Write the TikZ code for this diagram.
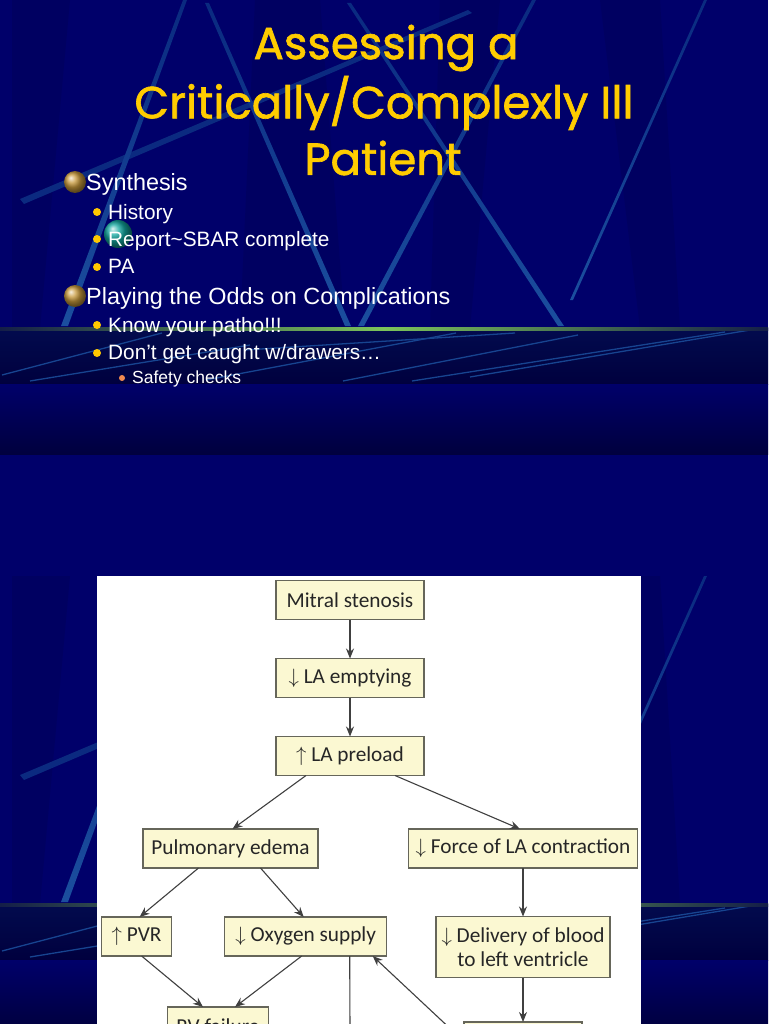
\documentclass[tikz,border=0pt]{standalone}
\usepackage{fontspec}
\usepackage{tikz}
\usetikzlibrary{arrows.meta,positioning}
\setmainfont{Liberation Sans}
\newfontfamily\titlefont[FakeBold=1.4]{Poppins}
\newfontfamily\boxfont{Carlito}
\definecolor{slidenavy}{HTML}{00006A}
\definecolor{stripedark}{HTML}{000061}
\definecolor{banddark}{HTML}{00003E}
\definecolor{bandtop}{HTML}{020B4E}
\definecolor{beamfaint}{HTML}{0B2A80}
\definecolor{beamtop}{HTML}{0A2A80}
\definecolor{beambot}{HTML}{1B4E9E}
\definecolor{raycol}{HTML}{174490}
\definecolor{titlegold}{HTML}{FFCC00}
\definecolor{dotgold}{HTML}{FFC800}
\definecolor{dotorange}{HTML}{F08A50}
\definecolor{ballgold}{HTML}{C89A3C}
\definecolor{globeteal}{HTML}{12A8A0}
\definecolor{boxfill}{HTML}{FBF8D2}
\definecolor{boxline}{HTML}{66665A}
\definecolor{glowgreen}{HTML}{7CC45A}
\definecolor{dimgreen}{HTML}{141E48}
\tikzset{
  beam/.style={top color=beamtop,bottom color=beambot,draw=none},
  ray/.style={draw=raycol,line width=1.3pt},
  titleline/.style={font=\titlefont\fontsize{45}{45}\selectfont,text=titlegold,inner sep=0pt},
  itemone/.style={font=\fontsize{23.4}{25}\selectfont,text=white,anchor=base west,inner sep=0pt},
  itemtwo/.style={font=\fontsize{20.8}{22}\selectfont,text=white,anchor=base west,inner sep=0pt},
  itemthree/.style={font=\fontsize{17.5}{20}\selectfont,text=white,anchor=base west,inner sep=0pt},
  stepbox/.style={draw=boxline,line width=1.2pt,fill=boxfill,minimum height=39pt,inner sep=0pt,
    outer sep=0pt,align=center,text=black!85,font=\boxfont\fontsize{21.3}{24}\selectfont},
  flow/.style={draw=black!75,line width=1.1pt,-{Stealth[length=10pt,width=8pt]}}
}
\begin{document}
\begin{tikzpicture}[x=1pt,y=-1pt]
  \useasboundingbox (0,0) rectangle (768,1024);
  \clip (0,0) rectangle (768,1024);
  \fill[slidenavy] (0,0) rectangle (768,1024);
  % the two slides share one backdrop
  \foreach \slidetop in {0,576} {
    \begin{scope}[yshift={-\slidetop pt}]
      \fill[stripedark] (12,0) -- (70,0) -- (40,328) -- (12,328) -- cycle;
      \fill[stripedark] (255,0) -- (320,0) -- (345,328) -- (240,328) -- cycle;
      \fill[stripedark] (440,0) -- (500,0) -- (470,328) -- (430,328) -- cycle;
      \fill[stripedark] (600,0) -- (660,0) -- (680,328) -- (640,328) -- cycle;
      \fill[beamfaint] (468,10) -- (472,13) -- (24,204) -- (20,199) -- cycle;
      \shade[beam] (183,0) -- (187,0) -- (68,326) -- (61,326) -- cycle;
      \shade[beam] (205,3) -- (209,3) -- (351,326) -- (345,326) -- cycle;
      \shade[beam] (347,3) -- (351,3) -- (564,326) -- (558,326) -- cycle;
      \shade[beam] (532,0) -- (536,0) -- (364,326) -- (358,326) -- cycle;
      \shade[beam] (704,0) -- (707,0) -- (573,300) -- (570,300) -- cycle;
      \shade[top color=bandtop,bottom color=banddark] (0,328) rectangle (768,384);
      \shade[top color=slidenavy,bottom color=banddark] (0,384) rectangle (768,454);
      \draw[ray] (2,375) -- (162,333);
      \draw[ray] (30,381) -- (250,345);
      \draw[ray] (206,380) -- (456,333);
      \draw[ray] (245,350) -- (515,333);
      \draw[ray] (343,381) -- (578,335);
      \draw[ray] (412,381) -- (725,332);
      \draw[ray] (470,377) -- (750,330);
      \shade[left color=dimgreen,right color=glowgreen] (0,327) rectangle (384,330);
      \shade[left color=glowgreen,right color=dimgreen] (384,327) rectangle (768,330);
    \end{scope}
  }

  % first slide
  \node[titleline] (titlea) at (386,48) {Assessing a};
  \node[titleline] (titleb) at (384,103) {Critically/Complexly Ill};
  \node[titleline] (titlec) at (383,158) {Patient};

  \shade[ball color=ballgold] (75,182) circle (11);
  \shade[ball color=ballgold] (75,296) circle (11);
  \fill[dotgold] (97,212) circle (4);
  \fill[dotgold] (97,239) circle (4);
  \fill[dotgold] (97,267) circle (4);
  \fill[dotgold] (97,325) circle (4);
  \fill[dotgold] (97,353) circle (4);
  \fill[dotorange] (122,378) circle (3);
  \shade[ball color=globeteal] (118,234) circle (14);

  \node[itemone]   (synth)   at (86,191)  {Synthesis};
  \node[itemtwo]   (hist)    at (108,219) {History};
  \node[itemtwo]   (report)  at (108,246) {Report\textasciitilde SBAR complete};
  \node[itemtwo]   (pa)      at (108,273) {PA};
  \node[itemone]   (odds)    at (86,304)  {Playing the Odds on Complications};
  \node[itemtwo]   (patho)   at (108,332) {Know your patho!!!};
  \node[itemtwo]   (drawers) at (108,359) {Don’t get caught w/drawers…};
  \node[itemthree] (safety)  at (132,383) {Safety checks};

  % second slide
  \fill[white] (97,576) rectangle (641,1024);
  \node[stepbox,minimum width=148pt] (mitral)   at (350,600) {Mitral stenosis};
  \node[stepbox,minimum width=148pt] (laempty)  [below=39pt of mitral]  {$\downarrow$ LA emptying};
  \node[stepbox,minimum width=148pt] (lapre)    [below=39pt of laempty] {$\uparrow$ LA preload};
  \node[stepbox,minimum width=175pt] (pulm)     at (230.5,848.5) {Pulmonary edema};
  \node[stepbox,minimum width=229pt] (force)    at (523,848.5)   {$\downarrow$ Force of LA contraction};
  \node[stepbox,minimum width=70pt]  (pvr)      at (136.6,936.5) {$\uparrow$ PVR};
  \node[stepbox,minimum width=162pt] (oxygen)   at (305.7,936.5) {$\downarrow$ Oxygen supply};
  \node[stepbox,minimum width=174pt,minimum height=61pt] (delivery) at (523,947) {$\downarrow$ Delivery of blood\\to left ventricle};
  \node[stepbox,minimum width=101pt] (rvfail)   at (218,1026.5)  {RV failure};
  \node[stepbox,minimum width=118pt] (lowbox)   at (523,1041.5)  {};
  \coordinate (offpage) at (350,1030);

  \draw[flow] (mitral) -- (laempty);
  \draw[flow] (laempty) -- (lapre);
  \draw[flow] ([xshift=-44pt]lapre.south) -- ([xshift=2pt]pulm.north);
  \draw[flow] ([xshift=45pt]lapre.south) -- ([xshift=-3pt]force.north);
  \draw[flow] ([xshift=-32pt]pulm.south) -- ([xshift=3pt]pvr.north);
  \draw[flow] ([xshift=30pt]pulm.south) -- ([xshift=-2pt]oxygen.north);
  \draw[flow] (force) -- (delivery);
  \draw[flow] ([xshift=5pt]pvr.south) -- ([xshift=-15pt]rvfail.north);
  \draw[flow] ([xshift=-4pt]oxygen.south) -- ([xshift=17pt]rvfail.north);
  \draw[flow] (delivery) -- (lowbox);
  \draw[draw=black!75,line width=1.1pt] ([xshift=44pt]oxygen.south) -- (offpage);
  \draw[flow] (lowbox.west) -- ([xshift=67pt]oxygen.south);
\end{tikzpicture}
\end{document}
